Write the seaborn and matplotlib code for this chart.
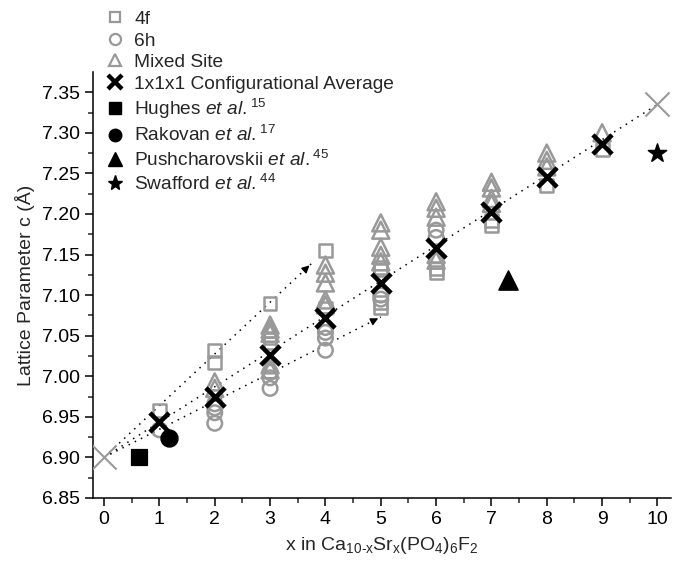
import numpy as np
import pandas as pd
import matplotlib
matplotlib.use("Agg")
import matplotlib.pyplot as plt
from matplotlib.lines import Line2D
import seaborn as sns

# calculated lattice parameters, Sr on 4f sites
x_4f = [1, 2, 2, 3, 3, 3, 4, 4, 5, 5, 5, 5, 6, 6, 7, 7, 8, 9]
c_4f = [6.958, 7.032, 7.017, 7.090, 7.047, 7.041, 7.155, 7.084,
        7.134, 7.131, 7.091, 7.085, 7.133, 7.128, 7.192, 7.186, 7.235, 7.279]

# Sr on 6h sites
x_6h = [1, 2, 2, 2, 2, 3, 3, 3, 4, 4, 4, 4, 5, 5, 6, 6]
c_6h = [6.934, 6.966, 6.961, 6.955, 6.942, 7.005, 6.998, 6.985,
        7.060, 7.054, 7.047, 7.032, 7.100, 7.095, 7.180, 7.171]

# mixed site configurations
x_mix = [2, 2, 3, 3, 3, 3, 3, 4, 4, 4, 4, 4, 5, 5, 5, 5, 5,
         6, 6, 6, 6, 6, 7, 7, 7, 7, 8, 8, 8, 9]
c_mix = [6.993, 6.985, 7.063, 7.058, 7.053, 7.014, 7.008,
         7.137, 7.127, 7.115, 7.094, 7.088,
         7.189, 7.180, 7.159, 7.149, 7.141,
         7.215, 7.207, 7.196, 7.150, 7.143,
         7.239, 7.232, 7.219, 7.213,
         7.275, 7.266, 7.258, 7.300]

# 1x1x1 configurational average
x_avg = [1, 2, 3, 4, 5, 6, 7, 8, 9]
c_avg = [6.944, 6.975, 7.026, 7.072, 7.115, 7.158, 7.202, 7.245, 7.286]

# end members
x_end = [0, 10]
c_end = [6.900, 7.335]

# experimental values
x_hughes, c_hughes = [0.63], [6.900]
x_rakovan, c_rakovan = [1.17], [6.924]
x_pusch, c_pusch = [7.30], [7.118]
x_swaff, c_swaff = [10.0], [7.275]

# dotted trend lines (start, end)
trend_4f = ([0, 3.75], [6.900, 7.139])
trend_avg = ([0, 10], [6.900, 7.335])
trend_6h = ([0, 5.0], [6.900, 7.073])

sns.set_style("ticks")
plt.rcParams["font.family"] = ["Liberation Sans", "DejaVu Sans"]
plt.rcParams["mathtext.fontset"] = "custom"
plt.rcParams["mathtext.rm"] = "Liberation Sans"
plt.rcParams["mathtext.it"] = "Liberation Sans:italic"
plt.rcParams["font.size"] = 12

gray = "#999999"

fig = plt.figure(figsize=(6.74, 5.62), dpi=100)
ax = fig.add_axes([0.138, 0.114, 0.858, 0.758])

# trend lines
for tx, ty in [trend_4f, trend_avg, trend_6h]:
    ax.plot(tx, ty, linestyle=(0, (1, 3.5)), color="black", lw=1.1, zorder=1)
for tx, ty in [trend_4f, trend_6h]:
    dx = tx[1] - tx[0]
    dy = ty[1] - ty[0]
    ax.annotate("", xy=(tx[1], ty[1]),
                xytext=(tx[1] - 0.04 * dx, ty[1] - 0.04 * dy),
                arrowprops=dict(arrowstyle="-|>", color="black", lw=1,
                                mutation_scale=11), zorder=1)

sns.scatterplot(x=x_4f, y=c_4f, marker="s", s=85, facecolor="none",
                edgecolor=gray, linewidth=1.8, ax=ax, zorder=2)
sns.scatterplot(x=x_6h, y=c_6h, marker="o", s=110, facecolor="none",
                edgecolor=gray, linewidth=1.8, ax=ax, zorder=2)
sns.scatterplot(x=x_mix, y=c_mix, marker="^", s=150, facecolor="none",
                edgecolor=gray, linewidth=1.8, ax=ax, zorder=2)
sns.scatterplot(x=x_end, y=c_end, marker="x", s=300, color=gray,
                linewidth=1.5, ax=ax, zorder=3)
sns.scatterplot(x=x_avg, y=c_avg, marker="x", s=190, color="black",
                linewidth=3.3, ax=ax, zorder=4)

sns.scatterplot(x=x_hughes, y=c_hughes, marker="s", s=120, color="black",
                edgecolor="black", ax=ax, zorder=4)
sns.scatterplot(x=x_rakovan, y=c_rakovan, marker="o", s=150, color="black",
                edgecolor="black", ax=ax, zorder=4)
sns.scatterplot(x=x_pusch, y=c_pusch, marker="^", s=190, color="black",
                edgecolor="black", ax=ax, zorder=4)
sns.scatterplot(x=x_swaff, y=c_swaff, marker="*", s=190, color="black",
                edgecolor="black", ax=ax, zorder=4)

ax.set_xlim(-0.2, 10.25)
ax.set_ylim(6.85, 7.375)
ax.set_xticks(np.arange(0, 11, 1))
ax.set_xticks(np.arange(0.5, 10.5, 1), minor=True)
ax.set_yticks(np.arange(6.85, 7.351, 0.05))
ax.set_yticks(np.arange(6.875, 7.37, 0.05), minor=True)
ax.set_yticklabels([f"{v:.2f}" for v in np.arange(6.85, 7.351, 0.05)])
ax.tick_params(which="major", direction="out", length=6, width=1.1,
               labelsize=14, colors="black")
ax.tick_params(which="minor", direction="out", length=3.5, width=1.1)
sns.despine(ax=ax)
for sp in ["left", "bottom"]:
    ax.spines[sp].set_linewidth(1.1)
    ax.spines[sp].set_color("black")

ax.set_xlabel(r"x in Ca$_{\text{10-x}}$Sr$_{\mathrm{x}}$(PO$_{\mathrm{4}}$)$_{\mathrm{6}}$F$_{\mathrm{2}}$",
              fontsize=14, labelpad=5)
ax.set_ylabel("Lattice Parameter c (Å)", fontsize=14, labelpad=5)

handles = [
    Line2D([], [], ls="none", marker="s", ms=7, mfc="none", mec=gray, mew=1.6),
    Line2D([], [], ls="none", marker="o", ms=8, mfc="none", mec=gray, mew=1.6),
    Line2D([], [], ls="none", marker="^", ms=9, mfc="none", mec=gray, mew=1.6),
    Line2D([], [], ls="none", marker="x", ms=10, color="black", mew=3.2),
    Line2D([], [], ls="none", marker="s", ms=8, color="black"),
    Line2D([], [], ls="none", marker="o", ms=9, color="black"),
    Line2D([], [], ls="none", marker="^", ms=10, color="black"),
    Line2D([], [], ls="none", marker="*", ms=11, color="black"),
]
labels = [
    "4f", "6h", "Mixed Site", "1x1x1 Configurational Average",
    r"Hughes $\it{et\ al.}$$^{15}$",
    r"Rakovan $\it{et\ al.}$$^{17}$",
    r"Pushcharovskii $\it{et\ al.}$$^{45}$",
    r"Swafford $\it{et\ al.}$$^{44}$",
]
fig.legend(handles, labels, loc="upper left", bbox_to_anchor=(0.145, 0.995),
           frameon=False, fontsize=13.8, handlelength=1.0, handletextpad=0.5,
           labelspacing=0.22, borderaxespad=0)

fig.savefig("out.png", dpi=100)
